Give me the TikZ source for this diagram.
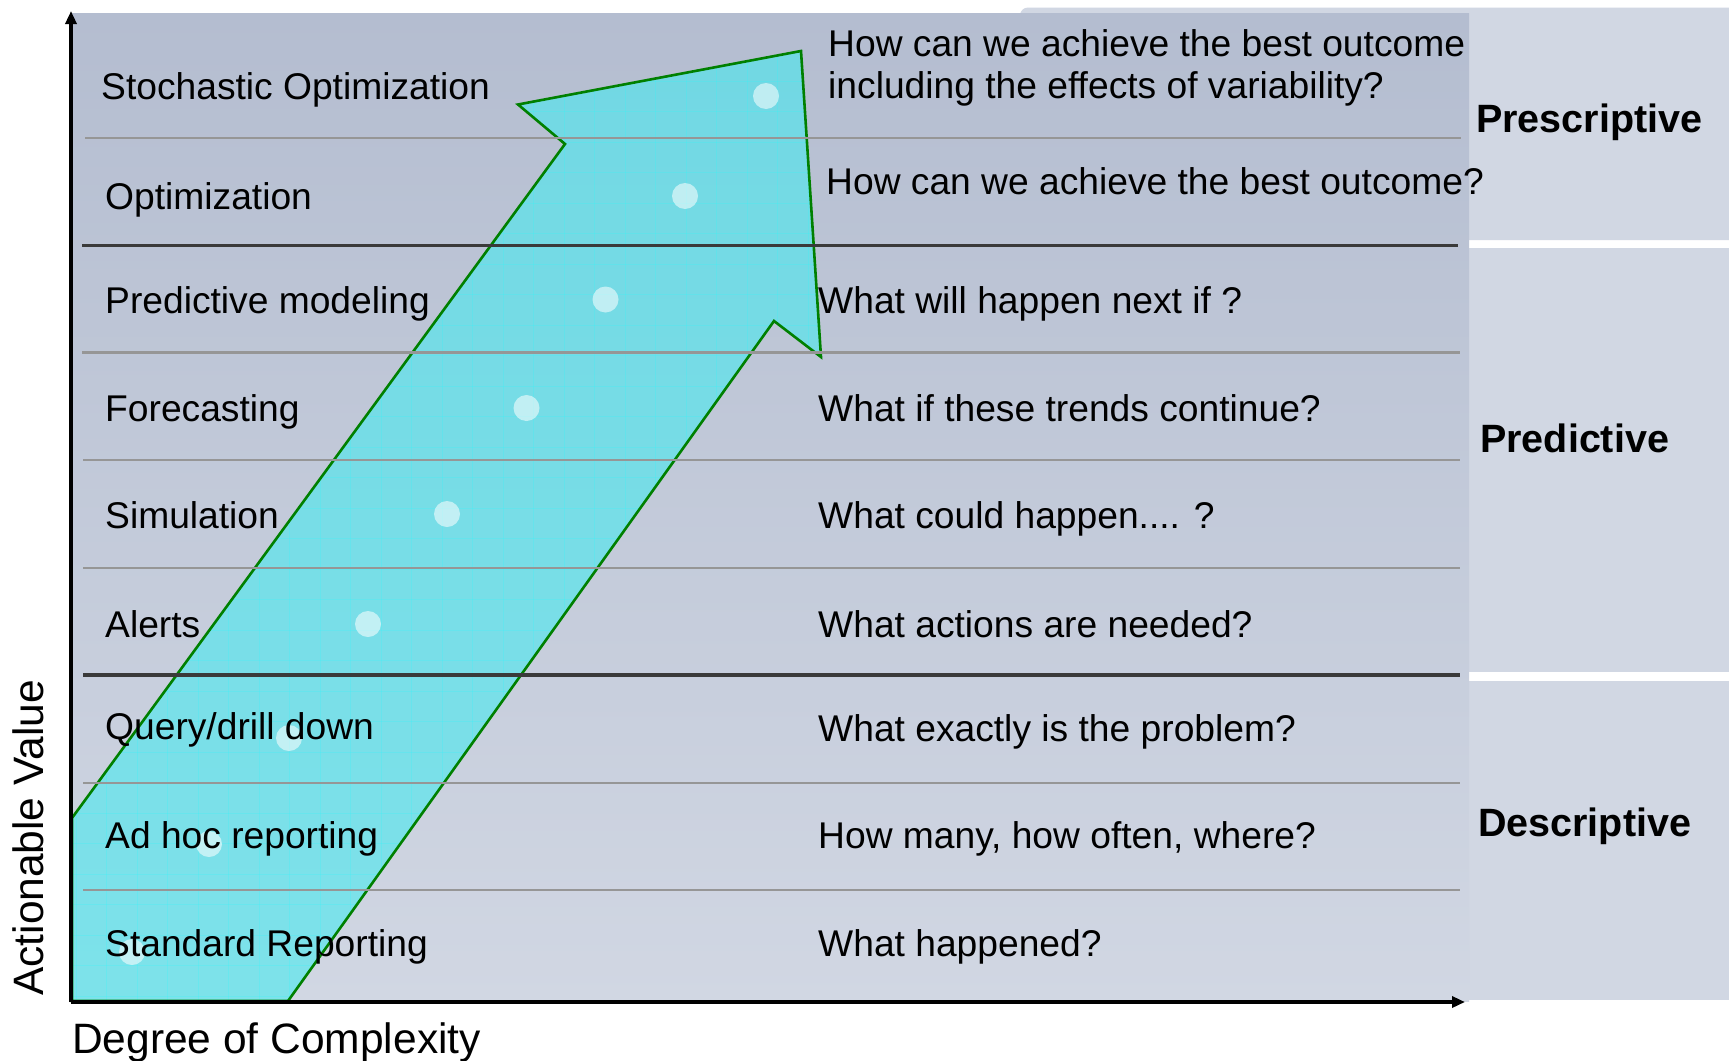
\documentclass[tikz,border=0pt]{standalone}
\usepackage{fontspec}
\setmainfont{Liberation Sans}
\usetikzlibrary{arrows.meta}
\definecolor{panelTop}{RGB}{180,189,208}
\definecolor{panelBot}{RGB}{209,215,227}
\definecolor{sidePanel}{RGB}{209,215,227}
\definecolor{arrowFill}{RGB}{70,234,240}
\definecolor{arrowEdge}{RGB}{0,128,0}
\definecolor{gridLine}{RGB}{40,250,255}
\definecolor{thinLine}{RGB}{150,150,150}
\definecolor{thickLine}{RGB}{58,58,58}
\newcommand\myarrowpath{(72,1001) -- (72,818) -- (565,144) -- (518,104.5) -- (801,51) -- (821,357) -- (774,321) -- (288,1001) -- cycle}
\tikzset{
  rowlabel/.style={anchor=base west, inner sep=0pt, font=\fontsize{37.2}{44}\selectfont},
  catlabel/.style={anchor=base west, inner sep=0pt, font=\fontsize{39.5}{46}\selectfont\bfseries},
  axislabel/.style={anchor=base west, inner sep=0pt, font=\fontsize{42.5}{50}\selectfont},
  thinrule/.style={draw=thinLine, line width=2.2pt},
  thickrule/.style={draw=thickLine, line width=3.6pt},
  dotmark/.style={fill=white, fill opacity=0.55, draw=none},
  gridrule/.style={draw=gridLine, opacity=0.22, line width=0.9pt},
  axisline/.style={line width=3.3pt, -{Triangle[length=13pt,width=11pt]}}
}
\begin{document}
\begin{tikzpicture}[x=1pt,y=-1pt]
\useasboundingbox (0,0) rectangle (1729,1060);
\fill[white] (0,0) rectangle (1729,1060);
% side panels
\fill[sidePanel, rounded corners=8pt] (1020,7.5) rectangle (1770,240);
\fill[sidePanel] (1469,248) rectangle (1729,672);
\fill[sidePanel] (1469,681) rectangle (1729,1000);
% main panel
\shade[top color=panelTop, bottom color=panelBot] (72,13) rectangle (1469,1001);
% arrow
\fill[arrowFill, fill opacity=0.6] \myarrowpath;
\begin{scope}
\clip \myarrowpath;
\foreach \i in {0,...,25} \draw[gridrule] ({76+30.5*\i},13) -- ++(0,990);
\foreach \i in {0,...,33} \draw[gridrule] (72,{20+30.5*\i}) -- ++(760,0);
\end{scope}
\draw[arrowEdge, line width=2.6pt, line join=miter] \myarrowpath;
% dots
\foreach \dx/\dy in {766/96, 685/196, 605.5/299.5, 526.5/408, 447/514, 368/624, 289/738, 209/844, 132/952}
  \fill[dotmark] (\dx,\dy) circle (13);
% rules
\draw[thinrule] (85,138) -- (1461,138);
\draw[thickrule] (82,245.5) -- (1458,245.5);
\draw[thinrule] (82,352.5) -- (1460,352.5);
\draw[thinrule] (83,460) -- (1460,460);
\draw[thinrule] (83,568) -- (1460,568);
\draw[thickrule] (83,675) -- (1460,675);
\draw[thinrule] (83,783) -- (1460,783);
\draw[thinrule] (83,890) -- (1460,890);
% axes
\coordinate (origin) at (71,1002);
\coordinate (ytip) at (71,11);
\coordinate (xtip) at (1465,1002);
\draw[axisline] (origin) -- (ytip);
\draw[axisline] (origin) -- (xtip);
% row labels
\node[rowlabel] (l1) at (101,99) {Stochastic Optimization};
\node[rowlabel] (l2) at (105,209) {Optimization};
\node[rowlabel] (l3) at (105,313.5) {Predictive modeling};
\node[rowlabel] (l4) at (105,421) {Forecasting};
\node[rowlabel] (l5) at (105,528) {Simulation};
\node[rowlabel] (l6) at (105,637.5) {Alerts};
\node[rowlabel] (l7) at (105,739) {Query/drill down};
\node[rowlabel] (l8) at (105,848) {Ad hoc reporting};
\node[rowlabel] (l9) at (105,956) {Standard Reporting};
% questions
\node[rowlabel] (q1a) at (828,56) {How can we achieve the best outcome};
\node[rowlabel] (q1b) at (828,98.5) {including the effects of variability?};
\node[rowlabel] (q2) at (826,194.5) {How can we achieve the best outcome?};
\node[rowlabel] (q3) at (818,313) {What will happen next if ?};
\node[rowlabel] (q4) at (818,421) {What if these trends continue?};
\node[rowlabel] (q5) at (818,528) {What could happen.... ?};
\node[rowlabel] (q6) at (818,637.5) {What actions are needed?};
\node[rowlabel] (q7) at (818,741) {What exactly is the problem?};
\node[rowlabel] (q8) at (818,848) {How many, how often, where?};
\node[rowlabel] (q9) at (818,956) {What happened?};
% categories
\node[catlabel] (c1) at (1476,132) {Prescriptive};
\node[catlabel] (c2) at (1480,452) {Predictive};
\node[catlabel] (c3) at (1478,836) {Descriptive};
% axis labels
\node[axislabel] (xl) at (72,1053) {Degree of Complexity};
\node[axislabel, rotate=90] (yl) at (43,996) {Actionable Value};
\end{tikzpicture}
\end{document}
